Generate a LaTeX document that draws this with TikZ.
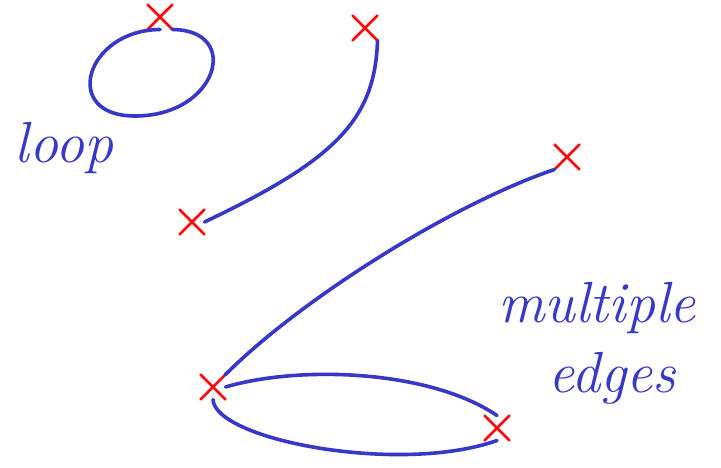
\documentclass[tikz,border=0pt]{standalone}
\usepackage{fontspec}
\usetikzlibrary{shapes.misc}
\definecolor{penblue}{RGB}{55,55,200}
\definecolor{penred}{RGB}{250,10,10}
\begin{document}
\begin{tikzpicture}[
  x=1pt, y=-1pt,
  vtx/.style={cross out, draw=penred, line width=2.6pt, line cap=round,
    minimum size=17pt, inner sep=0pt, outer sep=4pt},
  sketch/.style={draw=penblue, line width=3.6pt, line cap=round, line join=round},
  handtext/.style={text=penblue, font=\fontsize{58}{60}\selectfont\itshape},
]
\useasboundingbox (0,0) rectangle (721,467);

% Vertices
\node[vtx] (top)   at (160,17) {};
\node[vtx] (up)    at (365,28) {};
\node[vtx] (low)   at (192,222) {};
\node[vtx] (far)   at (567,157) {};
\node[vtx] (hub)   at (213,387) {};
\node[vtx] (right) at (497,428) {};

% Loop at the top vertex
\draw[sketch] (top.south) .. controls (86,30) and (60,116) .. (135,116)
  .. controls (218,116) and (242,30) .. (top.south east);

% Single edges
\draw[sketch] (up.south east) .. controls (375,120) and (335,160) .. (low.east);
\draw[sketch] (far.south west) .. controls (450,205) and (300,300) .. (hub.north east);

% Multiple edges
\draw[sketch] (hub.east) .. controls (300,365) and (430,370) .. (right.north);
\draw[sketch] (hub.south) .. controls (215,440) and (400,475) .. (right.south);

% Labels
\node[handtext] (looplbl) at (64,148) {loop};
\node[handtext] (multlbl) at (597,308) {multiple};
\node[handtext] (edgelbl) at (612,378) {edges};

\end{tikzpicture}
\end{document}
